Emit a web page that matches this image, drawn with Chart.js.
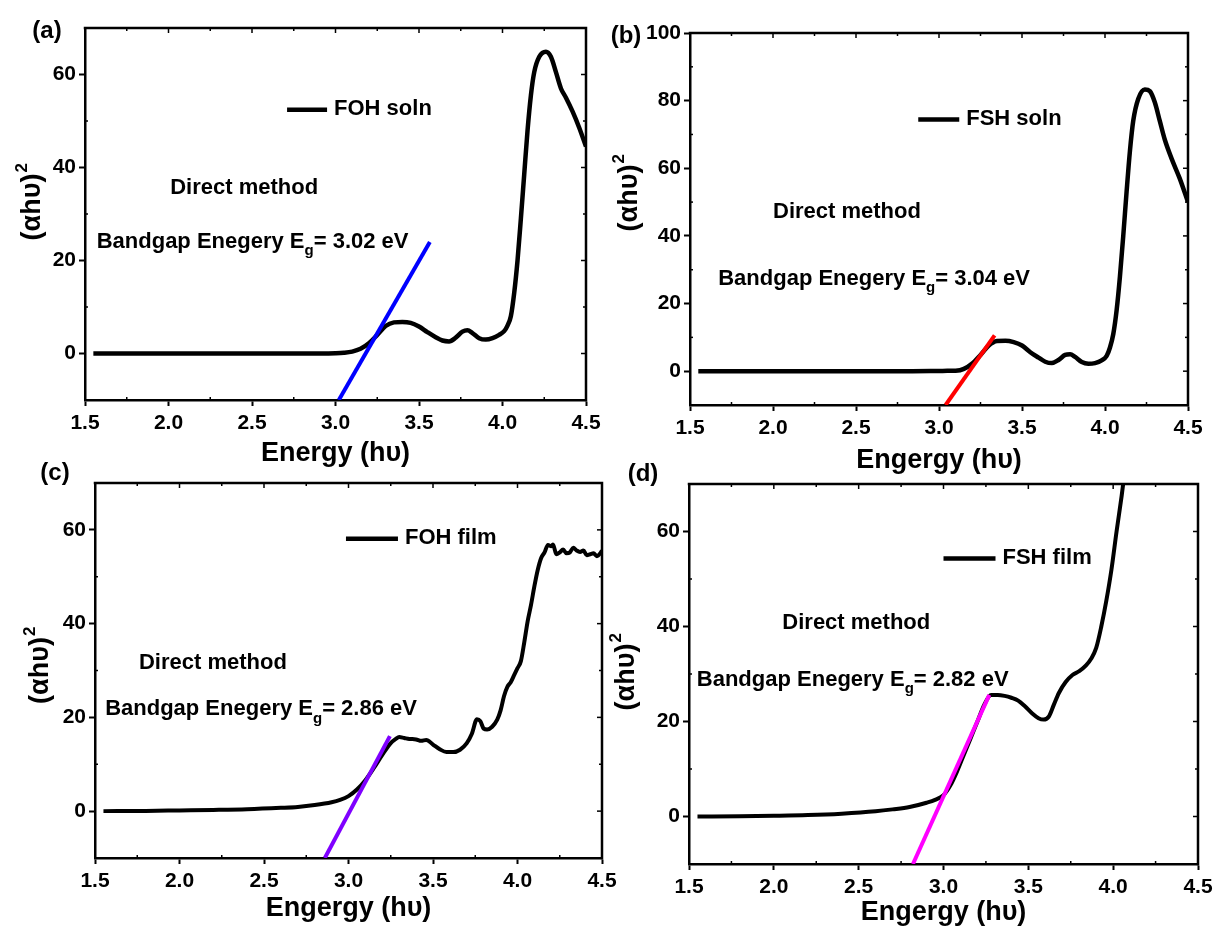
<!DOCTYPE html>
<html>
<head>
<meta charset="utf-8">
<script src="https://cdn.jsdelivr.net/npm/chart.js@4.4.0/dist/chart.umd.min.js"></script>
<style>
  html, body { margin: 0; padding: 0; background: #fff; }
  #fig { position: relative; width: 1218px; height: 929px; overflow: hidden; background: #fff; }
  #fig canvas { position: absolute; }
</style>
</head>
<body>
<div id="fig">
  <canvas id="panelA"></canvas>
  <canvas id="panelB"></canvas>
  <canvas id="panelC"></canvas>
  <canvas id="panelD"></canvas>
</div>
<script>
// ---- Tauc plot data: photon energy (eV) and (αhυ)² ----
const energyFOHsoln = [1.55, 1.8, 2.0, 2.2, 2.4, 2.6, 2.8, 2.95, 3.0, 3.05, 3.1, 3.15, 3.2, 3.25, 3.3, 3.35, 3.4, 3.45, 3.5, 3.55, 3.6, 3.64, 3.68, 3.72, 3.76, 3.79, 3.82, 3.86, 3.9, 3.94, 3.98, 4.01, 4.03, 4.05, 4.07, 4.09, 4.11, 4.13, 4.15, 4.17, 4.19, 4.22, 4.26, 4.29, 4.32, 4.35, 4.38, 4.42, 4.46, 4.5];
const tauxFOHsoln  = [0, 0, 0, 0, 0, 0, 0, 0.02, 0.05, 0.15, 0.4, 1.0, 2.2, 4.0, 5.9, 6.7, 6.8, 6.6, 5.8, 4.6, 3.5, 2.8, 2.6, 3.4, 4.7, 5.0, 4.4, 3.3, 3.0, 3.3, 4.0, 4.8, 6.0, 8.0, 13, 20, 29, 38.5, 48, 55.5, 60.5, 63.8, 64.9, 63.8, 60.5, 57, 55, 52, 48.5, 44.5];

const energyFSHsoln = [1.55, 1.8, 2.0, 2.2, 2.4, 2.6, 2.8, 2.95, 3.0, 3.05, 3.1, 3.15, 3.2, 3.25, 3.3, 3.35, 3.4, 3.45, 3.5, 3.55, 3.6, 3.64, 3.68, 3.72, 3.76, 3.79, 3.82, 3.86, 3.9, 3.94, 3.98, 4.01, 4.03, 4.05, 4.07, 4.09, 4.11, 4.13, 4.15, 4.17, 4.2, 4.24, 4.27, 4.3, 4.33, 4.36, 4.4, 4.45, 4.5];
const tauxFSHsoln  = [0, 0, 0, 0, 0, 0, 0, 0.02, 0.05, 0.1, 0.15, 0.7, 2.3, 4.8, 7.6, 8.9, 9.0, 8.6, 7.6, 5.6, 4.0, 2.8, 2.4, 3.3, 4.8, 5.0, 4.2, 2.7, 2.2, 2.4, 3.2, 4.5, 7, 11, 18, 28, 40, 53, 65, 74, 80.5, 83.3, 82.8, 79.5, 74, 68.5, 63, 57, 50];

const energyFOHfilm = [1.55, 1.8, 2.0, 2.2, 2.4, 2.6, 2.7, 2.8, 2.9, 2.95, 3.0, 3.05, 3.1, 3.15, 3.2, 3.25, 3.28, 3.3, 3.33, 3.36, 3.4, 3.43, 3.46, 3.5, 3.54, 3.58, 3.62, 3.66, 3.7, 3.73, 3.76, 3.78, 3.8, 3.82, 3.85, 3.88, 3.9, 3.92, 3.94, 3.96, 3.98, 4.0, 4.02, 4.04, 4.06, 4.08, 4.1, 4.12, 4.14, 4.16, 4.18, 4.2, 4.21, 4.23, 4.25, 4.27, 4.29, 4.31, 4.33, 4.35, 4.37, 4.39, 4.41, 4.43, 4.45, 4.47, 4.49, 4.5];
const tauxFOHfilm  = [0, 0.05, 0.15, 0.25, 0.4, 0.7, 0.9, 1.3, 1.9, 2.4, 3.2, 4.6, 6.6, 9.2, 12, 14.5, 15.4, 15.8, 15.6, 15.4, 15.3, 15.0, 15.2, 14.2, 13.2, 12.6, 12.6, 13.1, 14.5, 16.5, 19.6, 19.2, 17.6, 17.4, 18.0, 19.5, 21.5, 24.5, 26.5, 27.5, 29.0, 30.5, 32, 36, 40.5, 44, 48, 51.5, 54, 55.2, 56.8, 56.5, 56.9, 54.8, 55.2, 55.8, 55.0, 55.2, 56.2, 55.6, 55.3, 55.6, 54.6, 54.8, 55.0, 54.4, 55.0, 55.6];

const energyFSHfilm = [1.55, 1.8, 2.0, 2.2, 2.4, 2.6, 2.7, 2.8, 2.9, 2.95, 3.0, 3.04, 3.08, 3.12, 3.16, 3.2, 3.24, 3.28, 3.32, 3.36, 3.4, 3.44, 3.48, 3.52, 3.56, 3.59, 3.62, 3.65, 3.68, 3.72, 3.76, 3.8, 3.84, 3.87, 3.9, 3.93, 3.96, 3.99, 4.02, 4.05, 4.08];
const tauxFSHfilm  = [0, 0.05, 0.15, 0.3, 0.6, 1.1, 1.5, 2.0, 2.9, 3.5, 4.5, 6.5, 9.5, 13.0, 16.5, 20.0, 23.5, 25.6, 25.6, 25.4, 25.0, 24.4, 23.2, 21.8, 20.7, 20.4, 21.0, 23.5, 26, 28.3, 29.8, 30.6, 31.8, 33.2, 35.5, 40, 45.5, 52, 60, 67.5, 76];

// ---- sample names, fitted band gaps (eV) and upper ends of the linear fits ----
const sampleNames   = ['FOH soln', 'FSH soln', 'FOH film', 'FSH film'];
const bandgaps      = [3.02, 3.04, 2.86, 2.82];
const fitEndEnergy  = [3.565, 3.335, 3.245, 3.27];
const fitEndTaux    = [24, 10.6, 16, 25.6];

// ---- axis ticks ----
const energyTicks = [1.5, 2.0, 2.5, 3.0, 3.5, 4.0, 4.5];
const tauxTicksSoln = [0, 20, 40, 60];
const tauxTicksWide = [0, 20, 40, 60, 80, 100];
const tauxTicksFilm = [0, 20, 40, 60];

const FONT = '"Liberation Sans", Arial, Helvetica, sans-serif';
Chart.defaults.font.family = FONT;
Chart.defaults.color = '#000';

function font(size) { return 'bold ' + size + 'px ' + FONT; }

// Frame, inner tick marks, panel letter, y title, legend and annotations
const decor = {
  id: 'decor',
  afterDatasetsDraw(chart, args, o) {
    const { ctx, chartArea: ca } = chart;
    const x = chart.scales.x, y = chart.scales.y;
    ctx.save();
    ctx.strokeStyle = '#000';
    ctx.fillStyle = '#000';

    // top and right border
    ctx.lineWidth = 2.5;
    ctx.lineCap = 'square';
    ctx.beginPath();
    ctx.moveTo(ca.left, ca.top);
    ctx.lineTo(ca.right, ca.top);
    ctx.lineTo(ca.right, ca.bottom);
    ctx.stroke();

    // inward ticks
    ctx.lineWidth = 1.5;
    ctx.lineCap = 'butt';
    const seg = (x1, y1, x2, y2) => { ctx.beginPath(); ctx.moveTo(x1, y1); ctx.lineTo(x2, y2); ctx.stroke(); };
    for (let i = 0; i <= 12; i++) {
      const v = x.min + i * 0.25;
      const px = x.getPixelForValue(v);
      const major = i % 2 === 0;
      if (i > 0 && i < 12) seg(px, ca.top, px, ca.top + (major ? 5 : 3));
      if (!major) seg(px, ca.bottom, px, ca.bottom - 3);
    }
    for (let v = Math.ceil(y.min / 10) * 10; v < y.max; v += 10) {
      const py = y.getPixelForValue(v);
      const major = v % 20 === 0;
      if (v > y.min) seg(ca.right, py, ca.right - (major ? 5 : 3), py);
      if (!major) seg(ca.left, py, ca.left + 3, py);
    }

    // panel letter
    ctx.font = font(24);
    ctx.textAlign = 'center';
    ctx.textBaseline = 'middle';
    ctx.fillText(o.letter, o.letterAt[0], o.letterAt[1]);

    // y-axis title (αhυ)² rotated
    ctx.save();
    ctx.translate(ca.left + o.yTitle[0], (ca.top + ca.bottom) / 2 + o.yTitle[1]);
    ctx.rotate(-Math.PI / 2);
    ctx.font = font(27);
    ctx.textAlign = 'left';
    const base = '(\u03B1h\u03C5)';
    const w = ctx.measureText(base).width;
    ctx.fillText(base, -w / 2, 0);
    ctx.font = font(17);
    ctx.fillText('2', w / 2 + 1, -11);
    ctx.restore();

    // legend sample line + name
    const ds = chart.data.datasets[0];
    const lx = x.getPixelForValue(o.legendAt[0]);
    const ly = y.getPixelForValue(o.legendAt[1]);
    ctx.strokeStyle = ds.borderColor;
    ctx.lineWidth = 4.5;
    ctx.lineCap = 'butt';
    seg(lx, ly, lx + o.legendLen, ly);
    ctx.font = font(22);
    ctx.textAlign = 'left';
    ctx.fillText(ds.label, lx + o.legendLen + 7, ly - 1);

    // method note
    ctx.fillText('Direct method', x.getPixelForValue(o.directAt[0]), y.getPixelForValue(o.directAt[1]));

    // band gap note with subscript g
    let bx = x.getPixelForValue(o.gapAt[0]);
    const by = y.getPixelForValue(o.gapAt[1]);
    const t1 = 'Bandgap Enegery E';
    ctx.font = font(22);
    ctx.fillText(t1, bx, by);
    bx += ctx.measureText(t1).width;
    ctx.font = font(15);
    ctx.fillText('g', bx, by + 9);
    bx += ctx.measureText('g').width;
    ctx.font = font(22);
    ctx.fillText('= ' + o.gap.toFixed(2) + ' eV', bx, by);

    ctx.restore();
  }
};

function makePanel(id, p) {
  const el = document.getElementById(id);
  el.width = p.w; el.height = p.h;
  el.style.left = p.left + 'px';
  el.style.top = p.top + 'px';
  const tickFont = { family: FONT, size: 21, weight: 'bold' };
  return new Chart(el, {
    type: 'line',
    data: {
      datasets: [
        {
          label: p.name,
          data: p.energy.map((e, i) => ({ x: e, y: p.taux[i] })),
          borderColor: '#000', borderWidth: p.lw, pointRadius: 0,
          cubicInterpolationMode: 'monotone', fill: false, order: 1
        },
        {
          label: 'linear fit',
          data: [{ x: p.gap, y: p.yMin }, { x: p.fitEnd[0], y: p.fitEnd[1] }],
          borderColor: p.fitColor, borderWidth: 4, pointRadius: 0, fill: false, order: 0
        }
      ]
    },
    options: {
      responsive: false, animation: false, devicePixelRatio: 1, events: [],
      layout: { padding: { top: p.padTop, right: p.padRight, left: 0, bottom: 0 } },
      plugins: {
        legend: { display: false }, tooltip: { enabled: false },
        decor: {
          letter: p.letter, letterAt: p.letterAt, yTitle: p.yTitle,
          legendAt: p.legendAt, legendLen: p.legendLen,
          directAt: p.directAt, gapAt: p.gapAt, gap: p.gap
        }
      },
      scales: {
        x: {
          type: 'linear', min: 1.5, max: 4.5,
          afterBuildTicks: s => { s.ticks = energyTicks.map(v => ({ value: v })); },
          afterFit: s => { s.height = p.xH; },
          grid: { drawOnChartArea: false, drawTicks: true, tickLength: 6, tickWidth: 2, tickColor: '#000' },
          border: { display: true, color: '#000', width: 2.5 },
          ticks: { padding: 5, font: tickFont, color: '#000', maxRotation: 0, autoSkip: false,
                   callback: v => Number(v).toFixed(1) },
          title: { display: true, text: p.xTitle, color: '#000',
                   font: { family: FONT, size: 27, weight: 'bold', lineHeight: 1 },
                   padding: { top: 0, bottom: p.xTitlePad } }
        },
        y: {
          type: 'linear', min: p.yMin, max: p.yMax,
          afterBuildTicks: s => { s.ticks = p.yTicks.map(v => ({ value: v })); },
          afterFit: s => { s.width = p.yW; },
          grid: { drawOnChartArea: false, drawTicks: true, tickLength: 6, tickWidth: 2, tickColor: '#000' },
          border: { display: true, color: '#000', width: 2.5 },
          ticks: { padding: 3, font: tickFont, color: '#000', autoSkip: false, callback: v => String(v) }
        }
      }
    },
    plugins: [decor]
  });
}

makePanel('panelA', {
  left: 0, top: 0, w: 610, h: 470, yW: 85, padTop: 28, padRight: 24, xH: 70, xTitlePad: 3,
  name: sampleNames[0], energy: energyFOHsoln, taux: tauxFOHsoln, lw: 4.5,
  gap: bandgaps[0], fitEnd: [fitEndEnergy[0], fitEndTaux[0]], fitColor: '#0000ff',
  yMin: -10, yMax: 70, yTicks: tauxTicksSoln, xTitle: 'Energy (h\u03C5)',
  letter: '(a)', letterAt: [47, 31], yTitle: [-52, -7],
  legendAt: [2.71, 52.4], legendLen: 40, directAt: [2.01, 35.6], gapAt: [1.57, 24.0]
});

makePanel('panelB', {
  left: 600, top: 0, w: 618, h: 480, yW: 90, padTop: 33, padRight: 30, xH: 75, xTitlePad: 6,
  name: sampleNames[1], energy: energyFSHsoln, taux: tauxFSHsoln, lw: 4.5,
  gap: bandgaps[1], fitEnd: [fitEndEnergy[1], fitEndTaux[1]], fitColor: '#ff0000',
  yMin: -10, yMax: 100, yTicks: tauxTicksWide, xTitle: 'Engergy (h\u03C5)',
  letter: '(b)', letterAt: [26, 36], yTitle: [-60, -21],
  legendAt: [2.875, 74.4], legendLen: 41, directAt: [2.0, 47.1], gapAt: [1.67, 27.4]
});

makePanel('panelC', {
  left: 0, top: 460, w: 625, h: 469, yW: 95, padTop: 23, padRight: 23, xH: 71, xTitlePad: 7,
  name: sampleNames[2], energy: energyFOHfilm, taux: tauxFOHfilm, lw: 4,
  gap: bandgaps[2], fitEnd: [fitEndEnergy[2], fitEndTaux[2]], fitColor: '#7f00ff',
  yMin: -10, yMax: 70, yTicks: tauxTicksFilm, xTitle: 'Engergy (h\u03C5)',
  letter: '(c)', letterAt: [55, 13], yTitle: [-54, 0],
  legendAt: [2.985, 58.1], legendLen: 52, directAt: [1.76, 31.6], gapAt: [1.56, 21.7]
});

makePanel('panelD', {
  left: 590, top: 460, w: 628, h: 469, yW: 99, padTop: 24, padRight: 20, xH: 65, xTitlePad: 3,
  name: sampleNames[3], energy: energyFSHfilm, taux: tauxFSHfilm, lw: 4,
  gap: bandgaps[3], fitEnd: [fitEndEnergy[3], fitEndTaux[3]], fitColor: '#ff00ff',
  yMin: -10, yMax: 70, yTicks: tauxTicksFilm, xTitle: 'Engergy (h\u03C5)',
  letter: '(d)', letterAt: [53, 14], yTitle: [-62, 3],
  legendAt: [3.0, 54.3], legendLen: 52, directAt: [2.05, 40.7], gapAt: [1.546, 28.8]
});
</script>
</body>
</html>
